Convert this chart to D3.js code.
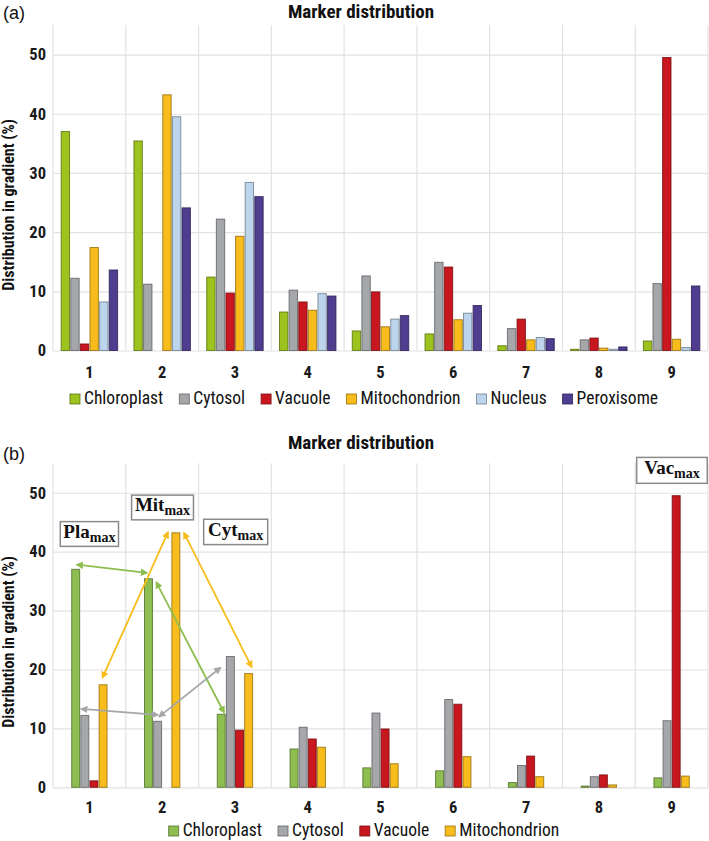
<!DOCTYPE html>
<html>
<head>
<meta charset="utf-8">
<script src="https://cdn.jsdelivr.net/npm/d3@7"></script>
<style>
  html, body { margin: 0; padding: 0; background: #fff; }
  svg { display: block; }
</style>
</head>
<body>
<svg id="chart" width="709" height="841"></svg>
<script>
// ---------------- DATA ----------------
const categories = ["1", "2", "3", "4", "5", "6", "7", "8", "9"];
const seriesNames = ["Chloroplast", "Cytosol", "Vacuole", "Mitochondrion", "Nucleus", "Peroxisome"];
const chloroplast   = [37.0, 35.4, 12.4, 6.5, 3.3, 2.8, 0.8, 0.2, 1.6];
const cytosol       = [12.2, 11.2, 22.2, 10.2, 12.6, 14.9, 3.7, 1.8, 11.3];
const vacuole       = [1.1, 0.0, 9.7, 8.2, 9.9, 14.1, 5.3, 2.1, 49.5];
const mitochondrion = [17.4, 43.2, 19.3, 6.8, 4.0, 5.2, 1.8, 0.4, 1.9];
const nucleus       = [8.2, 39.5, 28.4, 9.6, 5.3, 6.3, 2.2, 0.2, 0.5];
const peroxisome    = [13.6, 24.1, 26.0, 9.2, 5.9, 7.6, 2.0, 0.6, 10.9];
const yTicks = [0, 10, 20, 30, 40, 50];
const chartTitle = "Marker distribution";
const yLabel = "Distribution in gradient (%)";

// annotation arrows for panel (b): [fromCategoryPos, fromValue, toCategoryPos, toValue]
const arrowsGreen  = [[0.33, 37.8, 1.29, 36.4], [1.42, 34.8, 2.35, 12.7]];
const arrowsYellow = [[0.68, 18.6, 1.58, 43.3], [1.80, 43.2, 2.73, 20.4]];
const arrowsGray   = [[0.39, 13.3, 1.44, 12.3], [1.46, 12.0, 2.30, 20.3]];
// annotation boxes: [label, subscript, catStart, catEnd, valueTop, valueBottom]
const boxes = [
  ["Pla", "max", 0.10, 0.90, 45.1, 40.9],
  ["Mit", "max", 1.08, 1.93, 49.6, 45.4],
  ["Cyt", "max", 2.07, 2.95, 45.5, 41.2],
  ["Vac", "max", 8.02, 8.99, 56.0, 51.6]
];

const valuesBySeries = {
  "Chloroplast": chloroplast, "Cytosol": cytosol, "Vacuole": vacuole,
  "Mitochondrion": mitochondrion, "Nucleus": nucleus, "Peroxisome": peroxisome
};

// ---------------- DRAW ----------------
const svg = d3.select("#chart");
const X0 = 53, X1 = 708;
const FONT = '"Liberation Sans Narrow", "Arial Narrow", "Roboto Condensed", Roboto, sans-serif';

function drawPanel(cfg) {
  const g = svg.append("g");
  const x = d3.scaleBand().domain(categories).range([X0, X1]).padding(0);
  const y = d3.scaleLinear().domain([0, 55]).range([cfg.bottom, cfg.top]);
  const xc = d3.scaleLinear().domain([0, categories.length]).range([X0, X1]);

  // horizontal grid
  g.append("g")
    .attr("transform", `translate(${X0},0)`)
    .call(d3.axisLeft(y).tickValues(yTicks).tickSize(-(X1 - X0)).tickFormat(""))
    .call(a => a.select(".domain").remove())
    .call(a => a.selectAll("line").attr("stroke", "#e2e2e2").attr("stroke-width", 1.2));

  // vertical grid at category boundaries
  const bounds = categories.map(c => x(c)).concat([X1]);
  g.append("g").selectAll("line").data(bounds).join("line")
    .attr("x1", d => d).attr("x2", d => d)
    .attr("y1", cfg.top).attr("y2", cfg.bottom)
    .attr("stroke", "#e2e2e2").attr("stroke-width", 1.2);

  // bars
  const inner = d3.scaleBand().domain(cfg.series)
    .range([0, x.bandwidth()]).paddingInner(0.13).paddingOuter(cfg.outerPad);
  const data = [];
  cfg.series.forEach(s => valuesBySeries[s].forEach((v, i) => data.push({ s, c: categories[i], v })));
  g.append("g").selectAll("rect").data(data).join("rect")
    .attr("x", d => x(d.c) + inner(d.s))
    .attr("width", inner.bandwidth())
    .attr("y", d => y(d.v))
    .attr("height", d => y(0) - y(d.v))
    .attr("fill", d => cfg.colors[d.s])
    .attr("stroke", d => d3.color(cfg.colors[d.s]).darker(1.4))
    .attr("stroke-width", 1)
    .attr("stroke-opacity", d => d.v > 0 ? 0.85 : 0);

  // y axis labels
  g.append("g")
    .attr("transform", `translate(${X0},0)`)
    .call(d3.axisLeft(y).tickValues(yTicks).tickSize(0).tickPadding(7))
    .call(a => a.select(".domain").remove())
    .call(a => a.selectAll("text").attr("font-family", FONT).attr("font-size", 16.5)
      .attr("font-weight", "bold").attr("fill", "#1a1a1a"));

  // x axis labels
  g.append("g")
    .attr("transform", `translate(0,${cfg.bottom})`)
    .call(d3.axisBottom(x).tickSize(0).tickPadding(cfg.xPad))
    .call(a => a.select(".domain").remove())
    .call(a => a.selectAll("text").attr("font-family", FONT).attr("font-size", 16.5)
      .attr("font-weight", "bold").attr("fill", "#1a1a1a"));

  // title
  g.append("text").attr("x", 361).attr("y", cfg.titleY)
    .attr("text-anchor", "middle").attr("font-family", FONT)
    .attr("font-size", 19).attr("font-weight", "bold").attr("fill", "#111")
    .text(chartTitle);

  // panel letter
  g.append("text").attr("x", 3).attr("y", cfg.letterY)
    .attr("font-family", "Liberation Sans, Arial, sans-serif")
    .attr("font-size", 18).attr("fill", "#111").text(cfg.letter);

  // y label
  g.append("text")
    .attr("transform", `translate(14,${cfg.yLabelY}) rotate(-90)`)
    .attr("text-anchor", "middle").attr("font-family", FONT)
    .attr("font-size", 16).attr("font-weight", "bold").attr("fill", "#111")
    .text(yLabel);

  // legend
  const leg = g.append("g");
  let cx = 0;
  cfg.series.forEach(s => {
    const it = leg.append("g").attr("transform", `translate(${cx},0)`);
    it.append("rect").attr("x", 0).attr("y", -10).attr("width", 10).attr("height", 10)
      .attr("fill", cfg.colors[s]).attr("stroke", d3.color(cfg.colors[s]).darker(1.4)).attr("stroke-width", 0.8);
    const t = it.append("text").attr("x", 14).attr("y", 0)
      .attr("font-family", FONT).attr("font-size", 17.5).attr("fill", "#111").text(s);
    cx += 14 + t.node().getComputedTextLength() + 16;
  });
  cx -= 16;
  leg.attr("transform", `translate(${364 - cx / 2},${cfg.legendY})`);

  return { x, y, xc, g };
}

const colorsA = {
  "Chloroplast": "#9cc31e", "Cytosol": "#a5a7aa", "Vacuole": "#c8171f",
  "Mitochondrion": "#f8bc1c", "Nucleus": "#bcd5ec", "Peroxisome": "#4f3d8f"
};
const colorsB = {
  "Chloroplast": "#8dbe4f", "Cytosol": "#a5a7aa", "Vacuole": "#c8171f",
  "Mitochondrion": "#f8bc1c"
};

drawPanel({
  top: 25, bottom: 350.5, series: seriesNames, colors: colorsA, outerPad: 0.85,
  xPad: 16, titleY: 17.5, letterY: 19, yLabelY: 205, legendY: 404, letter: "(a)"
});

const pb = drawPanel({
  top: 463.3, bottom: 787.3, series: seriesNames.slice(0, 4), colors: colorsB, outerPad: 2.05,
  xPad: 14, titleY: 449, letterY: 460, yLabelY: 642, legendY: 836, letter: "(b)"
});

// ---------------- ANNOTATIONS (panel b) ----------------
const defs = svg.append("defs");
function marker(id, color) {
  defs.append("marker").attr("id", id).attr("viewBox", "0 0 10 10")
    .attr("refX", 8).attr("refY", 5).attr("markerWidth", 4.2).attr("markerHeight", 4.2)
    .attr("orient", "auto-start-reverse").attr("markerUnits", "strokeWidth")
    .append("path").attr("d", "M0,0 L10,5 L0,10 z").attr("fill", color);
}
const arrowSets = [
  [arrowsGreen, "#8dbe4f", "mg"],
  [arrowsYellow, "#f8bc1c", "my"],
  [arrowsGray, "#a5a7aa", "mk"]
];
arrowSets.forEach(([arr, col, id]) => {
  marker(id, col);
  pb.g.append("g").selectAll("line").data(arr).join("line")
    .attr("x1", d => pb.xc(d[0])).attr("y1", d => pb.y(d[1]))
    .attr("x2", d => pb.xc(d[2])).attr("y2", d => pb.y(d[3]))
    .attr("stroke", col).attr("stroke-width", 1.8)
    .attr("marker-start", `url(#${id})`).attr("marker-end", `url(#${id})`);
});

const bx = pb.g.append("g").selectAll("g").data(boxes).join("g");
bx.append("rect")
  .attr("x", d => pb.xc(d[2])).attr("y", d => pb.y(d[4]))
  .attr("width", d => pb.xc(d[3]) - pb.xc(d[2]))
  .attr("height", d => pb.y(d[5]) - pb.y(d[4]))
  .attr("fill", "#fff").attr("stroke", "#8a8a8a").attr("stroke-width", 1.5);
const bt = bx.append("text")
  .attr("x", d => (pb.xc(d[2]) + pb.xc(d[3])) / 2)
  .attr("y", d => (pb.y(d[4]) + pb.y(d[5])) / 2 + 4)
  .attr("text-anchor", "middle")
  .attr("font-family", '"Liberation Serif", "DejaVu Serif", serif')
  .attr("font-weight", "bold").attr("fill", "#111");
bt.append("tspan").attr("font-size", 19).text(d => d[0]);
bt.append("tspan").attr("font-size", 14).attr("dy", 4).text(d => d[1]);
</script>
</body>
</html>
